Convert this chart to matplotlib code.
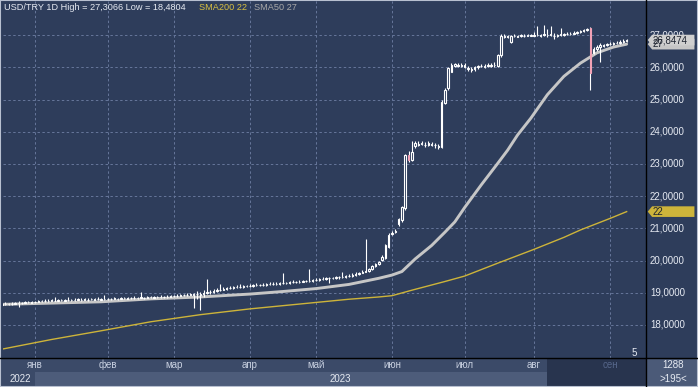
import matplotlib
matplotlib.use("Agg")
import matplotlib.pyplot as plt
import numpy as np
import pandas as pd
from matplotlib.lines import Line2D
from matplotlib.patches import Polygon, Rectangle
from matplotlib.transforms import blended_transform_factory

plt.rcParams["font.family"] = ["Liberation Sans", "DejaVu Sans"]

# ---- daily USD/TRY candles, one line per month (Dec 19 2022 .. Sep 8 2023) ----
opens = [
    18.63, 18.64, 18.65, 18.65, 18.66, 18.67, 18.68, 18.69, 18.70, 18.69,
    18.71, 18.72, 18.74, 18.73, 18.75, 18.76, 18.75, 18.76, 18.77, 18.76, 18.78, 18.77, 18.78, 18.79, 18.78, 18.79, 18.78, 18.80, 18.79, 18.80, 18.79, 18.80,
    18.81, 18.80, 18.82, 18.81, 18.82, 18.83, 18.82, 18.83, 18.84, 18.83, 18.85, 18.84, 18.85, 18.86, 18.85, 18.86, 18.87, 18.86, 18.87, 18.88,
    18.89, 18.90, 18.91, 18.92, 18.93, 18.94, 18.93, 18.95, 18.94, 18.96, 18.99, 19.01, 19.02, 19.05, 19.08, 19.10, 19.13, 19.14, 19.16, 19.17, 19.18, 19.19, 19.20,
    19.21, 19.22, 19.23, 19.23, 19.24, 19.25, 19.26, 19.27, 19.27, 19.28, 19.29, 19.30, 19.31, 19.32, 19.33, 19.34, 19.35, 19.36, 19.37, 19.38,
    19.40, 19.41, 19.43, 19.44, 19.45, 19.45, 19.46, 19.48, 19.49, 19.50, 19.52, 19.53, 19.56, 19.58, 19.62, 19.66, 19.68, 19.74, 19.82, 19.90, 20.02, 20.08, 20.43,
    20.82, 20.88, 21.14, 21.26, 21.62, 23.28, 23.12, 23.55, 23.60, 23.62, 23.58, 23.60, 23.60, 23.58, 23.54, 23.54, 24.88, 25.35, 25.87, 26.05, 26.04, 26.05,
    26.02, 25.95, 25.92, 25.95, 26.00, 26.03, 26.02, 26.04, 26.05, 26.06, 26.05, 26.38, 26.94, 26.95, 26.78, 26.96, 26.95, 26.97, 26.96, 26.98, 26.97,
    26.98, 26.99, 26.98, 26.99, 26.99, 27.00, 26.97, 26.98, 27.01, 27.01, 27.02, 27.04, 27.05, 27.07, 27.09, 27.12, 27.15, 27.21, 26.45, 26.56, 26.62, 26.67, 26.69,
    26.71, 26.73, 26.75, 26.77, 26.80, 26.82,
]
highs = [
    18.68, 18.70, 18.69, 18.71, 18.70, 18.73, 18.72, 18.74, 18.75, 18.74,
    18.76, 18.79, 18.78, 18.80, 18.80, 18.81, 18.86, 18.81, 18.82, 18.81, 18.88, 18.82, 18.83, 18.84, 18.83, 18.85, 18.83, 18.85, 18.84, 18.86, 18.84, 18.93,
    18.85, 18.84, 18.87, 18.85, 18.86, 18.88, 18.86, 18.87, 18.89, 18.87, 19.03, 18.88, 18.90, 18.91, 18.89, 18.90, 18.92, 18.90, 18.92, 18.93,
    18.93, 18.95, 18.95, 18.97, 18.98, 18.99, 19.00, 19.05, 19.02, 19.10, 19.42, 19.08, 19.12, 19.14, 19.27, 19.18, 19.19, 19.22, 19.22, 19.23, 19.26, 19.24, 19.25,
    19.26, 19.27, 19.30, 19.28, 19.29, 19.30, 19.32, 19.33, 19.32, 19.33, 19.60, 19.35, 19.36, 19.40, 19.38, 19.39, 19.41, 19.40, 19.74, 19.44,
    19.45, 19.47, 19.48, 19.49, 19.50, 19.50, 19.52, 19.53, 19.66, 19.56, 19.57, 19.60, 19.63, 19.66, 19.70, 20.66, 19.78, 19.86, 19.94, 20.00, 20.16, 20.50, 20.85,
    20.93, 20.97, 21.32, 21.70, 23.32, 23.40, 23.70, 23.72, 23.70, 23.72, 23.68, 23.70, 23.68, 23.66, 23.62, 25.00, 25.36, 26.02, 26.12, 26.15, 26.14, 26.13,
    26.12, 26.04, 26.00, 26.05, 26.08, 26.10, 26.09, 26.12, 26.13, 26.16, 26.42, 27.05, 27.02, 27.00, 27.00, 27.02, 27.01, 27.03, 27.02, 27.04, 27.03,
    27.10, 27.28, 27.05, 27.3066, 27.20, 27.27, 27.06, 27.05, 27.22, 27.08, 27.09, 27.10, 27.12, 27.13, 27.16, 27.19, 27.23, 27.25, 26.62, 26.70, 26.76, 26.74, 26.76,
    26.78, 26.80, 26.82, 26.85, 26.87, 26.88,
]
lows = [
    18.60, 18.62, 18.63, 18.63, 18.64, 18.56, 18.66, 18.67, 18.68, 18.67,
    18.68, 18.70, 18.72, 18.70, 18.72, 18.74, 18.73, 18.74, 18.75, 18.74, 18.76, 18.75, 18.76, 18.77, 18.76, 18.77, 18.76, 18.78, 18.77, 18.78, 18.77, 18.78,
    18.79, 18.78, 18.80, 18.79, 18.80, 18.81, 18.80, 18.81, 18.82, 18.81, 18.83, 18.82, 18.83, 18.84, 18.83, 18.84, 18.85, 18.84, 18.85, 18.86,
    18.87, 18.88, 18.89, 18.90, 18.91, 18.92, 18.52, 18.80, 18.4804, 18.88, 18.95, 18.97, 18.99, 19.02, 19.05, 19.08, 19.10, 19.11, 19.13, 19.14, 19.15, 19.16, 19.17,
    19.18, 19.19, 19.20, 19.21, 19.21, 19.22, 19.23, 19.24, 19.25, 19.25, 19.26, 19.27, 19.28, 19.29, 19.30, 19.31, 19.32, 19.33, 19.34, 19.35,
    19.36, 19.38, 19.40, 19.41, 19.31, 19.42, 19.43, 19.44, 19.45, 19.47, 19.48, 19.50, 19.53, 19.56, 19.60, 19.63, 19.65, 19.72, 19.80, 19.87, 19.98, 20.05, 20.40,
    20.78, 20.85, 21.08, 21.20, 21.58, 23.05, 23.08, 23.50, 23.55, 23.58, 23.52, 23.55, 23.56, 23.50, 23.48, 23.50, 24.85, 25.30, 25.85, 26.00, 26.00, 26.02,
    25.98, 25.90, 25.86, 25.90, 25.96, 26.00, 25.99, 26.01, 26.00, 26.02, 26.00, 26.33, 26.92, 26.90, 26.76, 26.93, 26.94, 26.95, 26.95, 26.96, 26.96,
    26.96, 26.97, 26.95, 26.96, 26.95, 26.97, 26.87, 26.95, 26.98, 26.98, 26.99, 27.00, 27.02, 27.04, 27.06, 27.10, 27.12, 25.30, 26.40, 26.52, 26.18, 26.64, 26.66,
    26.68, 26.70, 26.72, 26.74, 26.77, 26.79,
]
closes = [
    18.64, 18.65, 18.66, 18.66, 18.67, 18.68, 18.69, 18.70, 18.71, 18.70,
    18.72, 18.74, 18.75, 18.74, 18.76, 18.77, 18.76, 18.77, 18.78, 18.77, 18.79, 18.78, 18.79, 18.80, 18.79, 18.80, 18.79, 18.81, 18.80, 18.81, 18.80, 18.81,
    18.82, 18.81, 18.83, 18.82, 18.83, 18.84, 18.83, 18.84, 18.85, 18.84, 18.86, 18.85, 18.86, 18.87, 18.86, 18.87, 18.88, 18.87, 18.88, 18.89,
    18.90, 18.91, 18.92, 18.93, 18.94, 18.95, 18.96, 18.97, 18.97, 18.99, 19.03, 19.03, 19.05, 19.08, 19.10, 19.13, 19.14, 19.16, 19.17, 19.18, 19.19, 19.20, 19.21,
    19.22, 19.23, 19.24, 19.24, 19.25, 19.26, 19.27, 19.28, 19.28, 19.29, 19.30, 19.31, 19.32, 19.33, 19.34, 19.35, 19.36, 19.37, 19.38, 19.40,
    19.41, 19.43, 19.44, 19.45, 19.46, 19.46, 19.48, 19.49, 19.50, 19.52, 19.53, 19.56, 19.58, 19.62, 19.66, 19.68, 19.74, 19.82, 19.90, 19.95, 20.12, 20.47, 20.80,
    20.86, 20.92, 21.28, 21.66, 23.28, 23.12, 23.38, 23.64, 23.62, 23.66, 23.60, 23.65, 23.62, 23.60, 23.56, 24.93, 25.30, 25.97, 26.07, 26.10, 26.06, 26.08,
    26.06, 25.97, 25.94, 26.00, 26.03, 26.05, 26.04, 26.08, 26.06, 26.08, 26.38, 26.98, 26.96, 26.97, 26.96, 26.98, 26.97, 26.99, 26.98, 27.00, 26.99,
    27.00, 27.01, 26.99, 27.02, 27.00, 27.02, 26.98, 27.01, 27.03, 27.02, 27.04, 27.05, 27.07, 27.09, 27.12, 27.15, 27.20, 25.82, 26.56, 26.62, 26.70, 26.69, 26.71,
    26.73, 26.75, 26.77, 26.80, 26.82, 26.8474,
]

# moving averages at a few bar positions
sma50_idx = [0, 15, 30, 45, 60, 75, 85, 95, 105, 114, 118, 121, 125, 130, 134, 137, 140, 145, 150, 153,
             156, 160, 165, 170, 175, 180, 185, 189]
sma50_val = [18.64, 18.68, 18.72, 18.81, 18.87, 18.96, 19.04, 19.13, 19.26, 19.45, 19.55, 19.66, 20.05, 20.47,
             20.88, 21.20, 21.65, 22.35, 23.02, 23.43, 23.90, 24.42, 25.15, 25.72, 26.13, 26.45, 26.63, 26.72]
sma200_idx = [0, 15, 30, 45, 60, 75, 90, 105, 114, 118, 124, 134, 140, 150, 161, 170, 175, 184, 189]
sma200_val = [17.25, 17.55, 17.82, 18.10, 18.32, 18.50, 18.65, 18.80, 18.87, 18.91, 19.08, 19.35, 19.52, 19.92,
              20.35, 20.72, 20.95, 21.31, 21.52]

start_date = "2022-12-19"
month_names = {1: "янв", 2: "фев", 3: "мар", 4: "апр", 5: "май", 6: "июн",
               7: "июл", 8: "авг", 9: "сен", 10: "окт", 11: "ноя", 12: "дек"}
y_ticks = [18, 19, 20, 21, 22, 23, 24, 25, 26, 27]

W, H = 698, 387
BG = "#2e3d5b"
GRID = "#66769a"
FG = "#e6eaf2"
YELLOW = "#cdb43a"
GREY = "#c6c6c6"
YLIM = (16.975, 28.06)


def fmt(v):
    return f"{v:.4f}".replace(".", ",")


def px_rect(x0, y0, x1, y1, color, z=0):
    fig.add_artist(Rectangle((x0 / W, 1 - y1 / H), (x1 - x0) / W, (y1 - y0) / H,
                             transform=fig.transFigure, facecolor=color, edgecolor="none", zorder=z))


fig = plt.figure(figsize=(W / 100, H / 100), dpi=100)
fig.patch.set_facecolor(BG)

# bottom axis band
px_rect(0, 358, W, 372, "#3b4a68")
px_rect(0, 372, W, H, "#4d5c7a")
px_rect(0, 372, 35, H, "#3b4a68")
px_rect(547, 358, 646, H, "#28344e")
px_rect(646, 358, W, H, "#4b5a78")

ax = fig.add_axes([3 / W, 1 - 358 / H, 643 / W, 357 / H])
ax.set_facecolor(BG)
ax.set_xlim(0.3, 194.85)
ax.set_ylim(*YLIM)
for s in ax.spines.values():
    s.set_visible(False)

dates = pd.bdate_range(start_date, periods=len(closes))
month_start = np.flatnonzero(dates.month[1:] != dates.month[:-1]) + 1

ax.set_xticks(month_start)
ax.set_yticks(y_ticks)
ax.tick_params(length=0, labelbottom=False, labelleft=False)
ax.set_axisbelow(True)
ax.grid(True, color=GRID, lw=0.7, linestyle=(0, (2.5, 2.5)))

# moving averages
ax.plot(sma200_idx, sma200_val, color=YELLOW, lw=1.0, zorder=2)
ax.plot(sma50_idx, sma50_val, color=GREY, lw=2.1, zorder=2, solid_capstyle="round")

# candles: hollow bodies, white for up days, pink for down days
x = np.arange(len(closes))
o, h, l, c = map(np.asarray, (opens, highs, lows, closes))
top = np.maximum(o, c)
bot = np.minimum(o, c)
edge = np.where(c >= o, "white", "#f2a2b6")
ax.vlines(x, top, h, colors="white", lw=0.8, zorder=4)
ax.vlines(x, l, bot, colors="white", lw=0.8, zorder=4)
ax.bar(x, np.maximum(top - bot, 0.006), bottom=bot, width=0.45,
       facecolor="none", edgecolor=edge, lw=0.8, zorder=4)

# month and year labels
bt = blended_transform_factory(ax.transData, fig.transFigure)
for i in month_start:
    m = dates[i].month
    col = "#56668a" if i == month_start[-1] else "#c8d0e0"
    ax.text(i, 1 - 365 / H, month_names[m], transform=bt, ha="center", va="center",
            fontsize=7, color=col)
fig.text(20 / W, 1 - 379 / H, str(dates[0].year), ha="center", va="center", fontsize=7, color=FG)
ax.text((month_start[0] + ax.get_xlim()[1]) / 2, 1 - 379 / H, str(dates[month_start[0]].year),
        transform=bt, ha="center", va="center", fontsize=7, color=FG)

# title line
fig.text(4 / W, 1 - 8 / H, f"USD/TRY 1D High = {fmt(max(highs))} Low = {fmt(min(lows))}",
         ha="left", va="center", fontsize=6.6, color=FG)
fig.text(199 / W, 1 - 8 / H, f"SMA200 {sma200_val[-1]:.0f}", ha="left", va="center",
         fontsize=6.6, color="#d8c040")
fig.text(254 / W, 1 - 8 / H, f"SMA50 {sma50_val[-1]:.0f}", ha="left", va="center",
         fontsize=6.6, color="#a8a8a8")
fig.text(634 / W, 1 - 353 / H, "5", ha="center", va="center", fontsize=7, color=FG)

# right price axis
axr = fig.add_axes([647 / W, 1 - 358 / H, 51 / W, 357 / H])
axr.set_xlim(0, 1)
axr.set_ylim(*YLIM)
axr.set_facecolor(BG)
axr.axis("off")
for v in y_ticks:
    axr.text(0.06, v, fmt(v), ha="left", va="center", fontsize=7, color=FG, zorder=1)


def label_box(y, text, fc):
    hh = 0.165
    axr.add_patch(Polygon([(0.014, y), (0.1, y + hh), (0.93, y + hh), (0.93, y - hh), (0.1, y - hh)],
                          closed=True, facecolor=fc, edgecolor="none", zorder=5))
    axr.text(0.1, y, text, ha="left", va="center", fontsize=7, color="#1e2430", zorder=6)


label_box(sma200_val[-1], f"{sma200_val[-1]:.0f}", YELLOW)
label_box(sma50_val[-1], f"{sma50_val[-1]:.0f}", GREY)
label_box(closes[-1], fmt(closes[-1]), "#cfcfcf")

fig.text(673 / W, 1 - 365 / H, "1288", ha="center", va="center", fontsize=7, color=FG)
fig.text(673 / W, 1 - 379 / H, ">195<", ha="center", va="center", fontsize=7, color=FG)

# separators and outer frame
fig.add_artist(Line2D([646 / W, 646 / W], [0, 1], transform=fig.transFigure, color="black", lw=1.0))
fig.add_artist(Line2D([0, 1], [1 - 358 / H, 1 - 358 / H], transform=fig.transFigure, color="black", lw=1.0))
fig.add_artist(Rectangle((0, 0), 1, 1, transform=fig.transFigure, fill=False,
                         edgecolor="#b8c0d0", lw=1.5))

fig.savefig("out.png", dpi=100, facecolor=BG)
